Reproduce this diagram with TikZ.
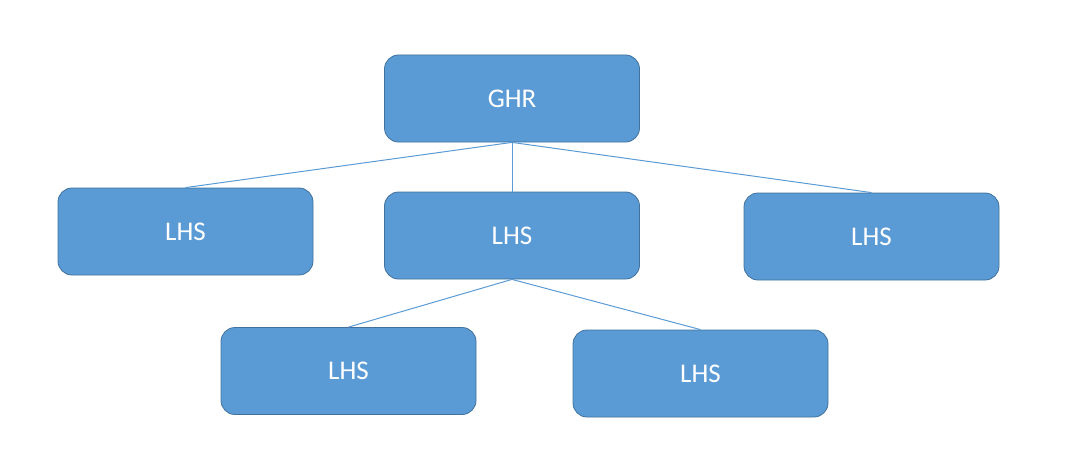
\documentclass[tikz,border=0pt]{standalone}
\usepackage{fontspec}
\setmainfont{Carlito}
\usepackage{tikz}
\usetikzlibrary{positioning}
\definecolor{boxfill}{HTML}{5B9BD5}
\definecolor{boxline}{HTML}{41719C}

\begin{document}
\begin{tikzpicture}[
    x=1pt, y=-1pt,
    box/.style={rectangle, draw=boxline, fill=boxfill, rounded corners=14pt, line width=0.8pt, minimum height=87pt, minimum width=255pt, font=\fontsize{27}{32}\selectfont, text=white},
    link/.style={draw=boxfill, line width=1pt},
]
\useasboundingbox (0,0) rectangle (1091,468);

% Root
\node[box] (ghr) at (512, 98.5) {GHR};

% Second level
\node[box] (lhsl) at (185.5, 231.5) {LHS};
\node[box] (lhsm) at (512, 235.5) {LHS};
\node[box] (lhsr) at (871.5, 236.5) {LHS};

% Third level
\node[box] (lhsbl) at (348.5, 371) {LHS};
\node[box] (lhsbr) at (700.5, 373.5) {LHS};

% Links
\draw[link] (ghr.south) -- (lhsl.north);
\draw[link] (ghr.south) -- (lhsm.north);
\draw[link] (ghr.south) -- (lhsr.north);
\draw[link] (lhsm.south) -- (lhsbl.north);
\draw[link] (lhsm.south) -- (lhsbr.north);

\end{tikzpicture}
\end{document}
